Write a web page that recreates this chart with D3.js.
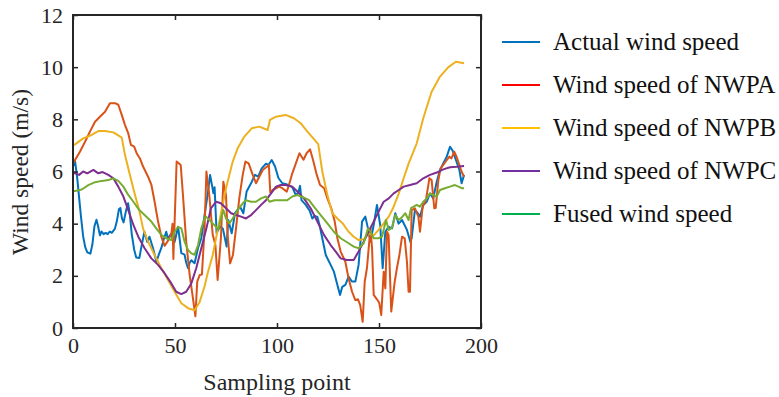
<!DOCTYPE html>
<html>
<head>
<meta charset="utf-8">
<script src="https://cdn.jsdelivr.net/npm/d3@7"></script>
<style>
  body { margin: 0; background: #fff; }
</style>
</head>
<body>
<svg id="chart" width="779" height="397" font-family="Liberation Serif, DejaVu Serif, serif"></svg>
<script>
// [sampling point, wind speed m/s]
const actual = [[0,6.2],[1,6.4],[2,5.8],[3,5.0],[4,4.2],[5,3.5],[6,3.1],[7,2.9],[8.5,2.85],[9.5,3.2],[10.5,3.9],[11.5,4.15],[12.3,3.9],[13.2,3.55],[14,3.7],[15,3.6],[16,3.65],[17,3.6],[18,3.7],[19,3.65],[20.5,3.8],[21.5,4.1],[22.5,4.55],[23.2,4.6],[24,4.2],[24.8,4.05],[26,4.5],[27,4.78],[27.8,4.4],[28.8,3.6],[30,3.0],[31,2.7],[32.5,2.68],[33.5,3.1],[35,3.69],[36.4,3.3],[37.5,3.5],[39.2,3.07],[40.9,2.54],[42,2.8],[43.3,3.07],[44.5,3.4],[45.7,3.69],[46.5,3.43],[48,3.6],[49.8,3.3],[51.5,3.88],[52.3,3.4],[53.1,2.87],[54.7,2.81],[55.5,2.5],[56.4,2.29],[57.2,2.5],[58,2.6],[59.6,2.48],[61.3,3.07],[62.9,3.44],[64.5,4.33],[66.2,5.23],[67.2,5.87],[68.3,5.4],[68.8,5.17],[69.4,5.4],[70.4,3.63],[72,3.9],[73.5,3.8],[75.3,3.12],[76.1,4.14],[77.8,3.63],[79.4,4.4],[81.9,4.65],[83.5,4.4],[85.1,5.23],[87.6,5.6],[89.2,5.87],[90.8,5.8],[92.5,6.12],[94.6,6.3],[95.8,6.25],[97.4,6.44],[99,6.2],[100.7,5.75],[102.6,5.55],[105,5.5],[107.5,5.4],[109.2,5.1],[110.5,5.2],[111.3,5.45],[112,4.9],[114.1,4.72],[116,4.5],[117.3,4.2],[118.5,4.3],[119.8,4.26],[121,3.9],[122.2,3.44],[123.9,2.8],[126.3,2.42],[127.9,2.16],[129.6,1.65],[130.9,1.27],[132,1.58],[133.5,1.65],[135.1,1.97],[136.7,1.78],[138.4,1.78],[140,2.42],[141.7,4.08],[143.3,4.27],[144.6,3.82],[145.8,3.31],[147.4,3.95],[149,4.72],[150.6,3.95],[151.8,2.29],[153.1,3.69],[154.7,3.88],[156.4,3.82],[158,4.4],[159.6,4.0],[161.3,4.14],[163.7,3.76],[165.4,3.3],[166,3.44],[167.6,4.52],[169,4.4],[170.1,4.27],[171.7,4.72],[173.4,4.84],[175,5.16],[176.6,4.97],[178.3,5.61],[179.9,6.06],[181.5,6.31],[183.2,6.57],[184.8,6.95],[186.1,6.8],[187.7,6.44],[189.4,6.06],[190.5,5.55],[191.7,5.87]];

const nwpA = [[0,6.3],[1,6.44],[3.4,6.76],[5.9,7.14],[8.3,7.53],[10.8,7.91],[13.2,8.1],[15.7,8.29],[18.1,8.62],[20.6,8.62],[22.2,8.56],[23.9,8.17],[25.5,7.78],[27.1,7.46],[28.4,7.02],[30,6.95],[31.2,6.7],[32.8,6.5],[34.3,6.2],[36.8,5.8],[38.4,5.5],[40,4.84],[41.7,4.08],[43.3,3.5],[44.9,3.15],[46.6,3.35],[48.2,3.6],[48.8,4.0],[49.2,2.65],[50,4.5],[50.8,6.38],[52.8,6.25],[53.9,5.1],[55.5,3.31],[57.2,2.03],[58.8,1.14],[60,0.45],[60.9,1.78],[62.1,2.03],[63.2,2.05],[64.5,3.82],[65.4,6.0],[66.8,5.1],[68.5,3.57],[69.8,3.19],[70.9,1.84],[72.5,3.44],[73.7,5.61],[75,5.1],[75.8,3.57],[77,2.48],[78.4,2.8],[79.9,3.82],[81.5,4.97],[83.2,5.87],[84.5,6.38],[86.1,6.31],[88.1,5.87],[89.7,5.55],[91.3,5.8],[93,6.06],[95,6.18],[96,6.25],[96.7,5.2],[98,5.3],[99.5,5.35],[101,5.42],[102.6,5.36],[104.8,5.23],[105.9,5.49],[107.5,5.93],[109.2,6.3],[111,6.7],[113,6.45],[114.5,6.7],[116.2,6.85],[117.8,6.4],[119.5,5.87],[121.1,5.48],[123.1,5.36],[124.7,4.97],[126.6,4.59],[128.3,4.08],[129.6,3.44],[131.2,2.93],[133.5,2.54],[135.1,1.9],[136.8,1.39],[138.4,1.07],[139.7,1.1],[140.8,0.88],[142,0.24],[143,1.78],[144.1,2.3],[145.8,3.82],[146.6,3.05],[147.4,1.27],[149,1.1],[150.1,0.97],[151.1,0.5],[152.3,2.16],[153.1,1.52],[153.9,3.69],[154.7,3.57],[156,0.63],[157.7,1.78],[158.8,2.3],[160,2.8],[161.3,3.5],[162.6,3.44],[163.7,2.54],[164.5,1.39],[165.2,1.39],[166,4.52],[167.6,4.59],[169.3,4.27],[170.1,3.69],[171.4,4.65],[173,4.9],[174.7,5.74],[175.8,5.67],[177.1,4.59],[177.8,4.6],[179.1,5.67],[180.2,6.12],[181.5,6.25],[183.2,6.44],[184.5,6.57],[185.5,6.5],[186.9,6.76],[188,6.57],[189.4,6.25],[190.5,5.99],[191.7,5.8]];

const nwpB = [[0,7.0],[1,7.04],[5,7.27],[9.1,7.4],[12.4,7.55],[15.7,7.55],[19.8,7.5],[23.9,7.3],[25.5,6.63],[27.9,5.87],[30.4,5.1],[32.5,4.5],[34.3,3.82],[36.8,3.31],[40,2.8],[43.3,2.29],[46.6,1.84],[49.8,1.39],[53.1,0.95],[56.4,0.76],[59.6,0.68],[62.1,1.0],[64.5,1.6],[66,2.1],[68.5,2.8],[71.7,4.08],[75,5.36],[78.3,6.38],[80.7,6.89],[84,7.34],[87.7,7.66],[91.3,7.72],[95.4,7.59],[96.6,7.98],[99.5,8.1],[104.2,8.17],[108.3,8.04],[111.6,7.85],[114.9,7.53],[117.8,7.27],[120.2,7.05],[122.2,6.0],[124.7,5.1],[127.1,4.4],[129.6,4.2],[132,4.03],[135.1,3.69],[137.6,3.5],[140,3.37],[142.5,3.4],[144.9,3.63],[147.4,3.55],[149.8,3.76],[152.3,4.01],[154.8,4.27],[157.2,4.65],[159.7,5.16],[162.1,5.74],[164.5,6.3],[168.5,7.08],[171.7,8.04],[175.8,9.06],[179.9,9.64],[184,10.0],[187.7,10.21],[191.7,10.15]];

const nwpC = [[0,5.95],[1,5.93],[3,5.87],[5,6.0],[7,5.93],[10,6.06],[12.4,5.93],[14.5,5.98],[17.3,5.87],[19.8,5.74],[22.2,5.42],[24.7,5.04],[27.1,4.52],[29.6,3.95],[32,3.5],[35.1,3.06],[38.4,2.67],[41.7,2.42],[44.9,2.1],[48.2,1.71],[50.6,1.39],[53.1,1.3],[55.5,1.39],[58,1.71],[60.4,2.29],[62.9,3.06],[65.4,3.82],[67.6,4.59],[70.1,4.84],[72.5,4.78],[75,4.59],[77.5,4.4],[79.9,4.33],[82.4,4.27],[84.8,4.2],[87.3,4.33],[89.7,4.52],[92.2,4.72],[94.6,4.9],[97.1,5.16],[99.5,5.42],[101.8,5.48],[104.2,5.48],[107.5,5.42],[110,5.23],[113.2,4.97],[116.5,4.59],[119.8,4.08],[123,3.57],[126.3,3.18],[128.8,2.93],[131.2,2.67],[134.3,2.61],[137.6,2.61],[140,2.93],[142.5,3.31],[144.9,3.69],[147.4,4.08],[149.8,4.46],[152.3,4.84],[154.8,4.97],[157.2,5.16],[159.7,5.29],[162.1,5.42],[165.2,5.48],[168.5,5.55],[171.7,5.74],[175,5.87],[178.3,5.96],[181.5,6.08],[184.8,6.16],[188,6.18],[191.7,6.21]];

const fused = [[0,5.25],[1,5.25],[4.3,5.31],[7.5,5.48],[10.8,5.59],[14.1,5.64],[17.3,5.67],[19.8,5.74],[22.2,5.64],[24.7,5.42],[27.1,5.1],[29.6,4.84],[32.5,4.52],[35.1,4.33],[38.4,4.08],[40.8,3.82],[43.3,3.57],[45.7,3.44],[48.2,3.37],[49.8,3.69],[51.5,3.88],[53.1,3.82],[54.7,3.31],[56.4,2.99],[58,2.86],[59.6,2.81],[61.3,3.18],[62.9,3.82],[64.5,4.2],[65.2,4.27],[67.6,4.08],[70.1,3.88],[71.2,3.76],[72.5,4.2],[73.7,4.52],[75,4.2],[76.6,4.01],[78.3,4.2],[80.7,4.52],[83.2,4.78],[84.8,4.9],[87.3,4.84],[89.7,4.84],[92.2,4.97],[94.6,5.04],[96.3,4.84],[98.8,4.9],[101.8,4.9],[105,4.9],[107.5,5.04],[110,5.1],[113.2,5.0],[115.7,4.9],[118.1,4.65],[121.4,4.33],[124.7,4.01],[127.9,3.69],[131.2,3.44],[135.1,3.25],[137.6,3.12],[140,3.06],[142.5,3.25],[144.6,3.82],[145.8,3.7],[147.4,3.44],[149.8,3.44],[151.5,3.5],[153.4,4.14],[154.8,3.76],[156.4,3.85],[158,4.33],[159.6,4.14],[161.3,4.25],[162.9,4.4],[164.5,4.14],[165.7,4.6],[168.5,4.72],[170,4.65],[171.7,4.84],[173.4,4.97],[175,5.16],[176.6,5.1],[178.3,5.04],[179.9,5.29],[182.3,5.36],[184.8,5.42],[187.2,5.48],[189,5.42],[190.5,5.36],[191.7,5.36]];

const seriesNames = ["Actual wind speed", "Wind speed of NWPA", "Wind speed of NWPB", "Wind speed of NWPC", "Fused wind speed"];
const lineColors = ["#0072BD", "#D95319", "#EDB120", "#7E2F8E", "#77AC30"];
// the legend swatches in the picture use different colours from the lines
const legendColors = ["#0072BD", "#FF0000", "#FFC000", "#7030A0", "#00B050"];
const xTicks = [0, 50, 100, 150, 200];
const yTicks = [0, 2, 4, 6, 8, 10, 12];

const allSeries = [actual, nwpA, nwpB, nwpC, fused];

const serif = "Liberation Serif, DejaVu Serif, serif";
const ink = "#262626";

const svg = d3.select("#chart");
const plotLeft = 73, plotRight = 481, plotTop = 15, plotBottom = 328;

const x = d3.scaleLinear().domain([0, 200]).range([plotLeft, plotRight]);
const y = d3.scaleLinear().domain([0, 12]).range([plotBottom, plotTop]);

const line = d3.line().x(d => x(d[0])).y(d => y(d[1]));

svg.append("g")
  .attr("fill", "none")
  .attr("stroke-width", 2)
  .attr("stroke-linejoin", "round")
  .selectAll("path")
  .data(allSeries)
  .join("path")
  .attr("stroke", (d, i) => lineColors[i])
  .attr("d", line);

function styleAxis(g) {
  g.attr("font-family", serif).attr("font-size", 22);
  g.select(".domain").remove();
  g.selectAll(".tick line").attr("stroke", ink).attr("stroke-width", 1.5);
  g.selectAll(".tick text").attr("fill", ink);
}

svg.append("g")
  .attr("transform", `translate(0,${plotBottom})`)
  .call(d3.axisBottom(x).tickValues(xTicks).tickSize(-5).tickPadding(9))
  .call(styleAxis);

svg.append("g")
  .attr("transform", `translate(0,${plotTop})`)
  .call(d3.axisTop(x).tickValues(xTicks).tickSize(-5).tickFormat(""))
  .call(styleAxis);

svg.append("g")
  .attr("transform", `translate(${plotLeft},0)`)
  .call(d3.axisLeft(y).tickValues(yTicks).tickSize(-5).tickPadding(10))
  .call(styleAxis);

svg.append("g")
  .attr("transform", `translate(${plotRight},0)`)
  .call(d3.axisRight(y).tickValues(yTicks).tickSize(-5).tickFormat(""))
  .call(styleAxis);

svg.append("rect")
  .attr("x", plotLeft).attr("y", plotTop)
  .attr("width", plotRight - plotLeft).attr("height", plotBottom - plotTop)
  .attr("fill", "none")
  .attr("stroke", ink)
  .attr("stroke-width", 2);

svg.append("text")
  .attr("x", (plotLeft + plotRight) / 2)
  .attr("y", 390)
  .attr("text-anchor", "middle")
  .attr("font-family", serif)
  .attr("font-size", 24)
  .attr("fill", ink)
  .text("Sampling point");

svg.append("text")
  .attr("transform", "translate(28,172) rotate(-90)")
  .attr("text-anchor", "middle")
  .attr("font-family", serif)
  .attr("font-size", 23.5)
  .attr("fill", ink)
  .text("Wind speed (m/s)");

const legend = svg.append("g")
  .selectAll("g")
  .data(seriesNames)
  .join("g")
  .attr("transform", (d, i) => `translate(0,${42 + i * 43})`);

legend.append("line")
  .attr("x1", 502).attr("x2", 540)
  .attr("stroke", (d, i) => legendColors[i])
  .attr("stroke-width", 2);

legend.append("text")
  .attr("x", 553)
  .attr("y", 8)
  .attr("font-family", serif)
  .attr("font-size", 25)
  .attr("fill", "#111")
  .text(d => d);
</script>
</body>
</html>
